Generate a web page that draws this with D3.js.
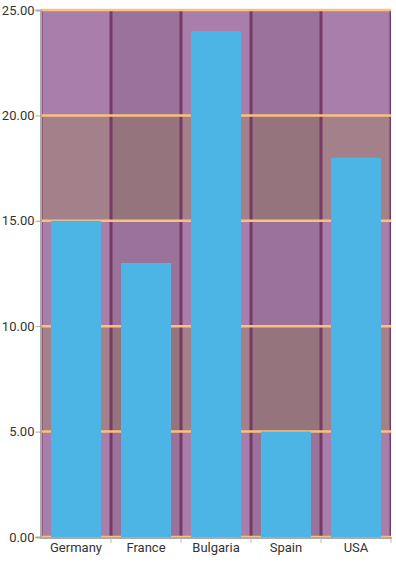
<!DOCTYPE html>
<html><head><meta charset="utf-8">
<script src="https://cdn.jsdelivr.net/npm/d3@7"></script>
<style>
html,body{margin:0;padding:0;background:#fff;}
svg{display:block;font-family:Roboto,"Noto Sans",sans-serif;}
</style></head>
<body>
<script>
const categories = ["Germany","France","Bulgaria","Spain","USA"];
const values = [15,13,24,5,18];
const yTicks = [0,5,10,15,20,25];

const W = 396, H = 563;
const m = {left:41, right:5, top:10, bottom:26};
const svg = d3.select("body").append("svg").attr("width",W).attr("height",H);

const x = d3.scaleBand().domain(categories).range([m.left, W-m.right]).paddingInner(0).paddingOuter(0);
const y = d3.scaleLinear().domain([0,25]).range([H-m.bottom, m.top]);

const g = svg.append("g");
// horizontal bands
const bands = d3.range(yTicks.length-1).map(i => ({lo:yTicks[i], hi:yTicks[i+1], i}));
g.selectAll("rect.hb").data(bands).join("rect")
  .attr("x", m.left).attr("width", W-m.right-m.left)
  .attr("y", d=>y(d.hi)).attr("height", d=>y(d.lo)-y(d.hi))
  .attr("fill", d=> d.i%2===0 ? "#aa7eaa" : "#a4808b");
// vertical column shading
g.selectAll("rect.vb").data(categories.filter((c,i)=>i%2===1)).join("rect")
  .attr("x", d=>x(d)).attr("width", x.bandwidth())
  .attr("y", m.top).attr("height", y(0)-m.top)
  .attr("fill", "#000").attr("fill-opacity", 0.09);
// vertical boundary lines
const bounds = categories.map(c=>x(c)).concat([x(categories[categories.length-1])+x.bandwidth()]);
g.selectAll("line.vl").data(bounds).join("line")
  .attr("x1", d=>d).attr("x2", d=>d)
  .attr("y1", m.top).attr("y2", y(0))
  .attr("stroke", "#6f305f").attr("stroke-opacity",0.85)
  .attr("stroke-width", (d,i)=> (i===0||i===bounds.length-1) ? 1.5 : 3)
  .attr("transform",(d,i)=> i===0 ? "translate(0.75,0)" : (i===bounds.length-1 ? "translate(-0.75,0)" : null));
// horizontal gridlines
g.selectAll("line.hl").data(yTicks).join("line")
  .attr("x1", m.left).attr("x2", W-m.right)
  .attr("y1", d=>y(d)).attr("y2", d=>y(d))
  .attr("stroke", "#f8c27c").attr("stroke-width", 2.5);

// bars
const pad = 10;
g.selectAll("rect.bar").data(values).join("rect")
  .attr("x", (d,i)=>x(categories[i])+pad)
  .attr("width", x.bandwidth()-2*pad)
  .attr("y", d=>y(d)).attr("height", d=>y(0)-y(d))
  .attr("fill", "#4db4e6");

// y axis
const ya = svg.append("g").attr("transform",`translate(${m.left-0.5},0)`)
  .call(d3.axisLeft(y).tickValues(yTicks).tickFormat(d3.format(".2f")).tickSize(5).tickPadding(1))
  .attr("font-family","Roboto, 'Noto Sans', sans-serif");
ya.select(".domain").attr("stroke","#aaa").attr("stroke-width",2);
ya.selectAll(".tick line").attr("stroke","#aaa");
ya.selectAll(".tick text").attr("font-size",13).attr("fill","#333");

// x axis
const xa = svg.append("g").attr("transform",`translate(0,${y(0)+1})`)
  .call(d3.axisBottom(x).tickSize(0).tickPadding(5))
  .attr("font-family","Roboto, 'Noto Sans', sans-serif");
xa.select(".domain").attr("stroke","#aaa").attr("stroke-width",2).attr("d",`M${m.left-1},0H${W-m.right+1}`);
xa.selectAll(".tick text").attr("font-size",13).attr("fill","#333");
xa.selectAll("line.xt").data(bounds.slice(1)).join("line")
  .attr("x1",d=>d).attr("x2",d=>d).attr("y1",0).attr("y2",5)
  .attr("stroke","#bbb").attr("stroke-width",1);
</script>
</body></html>
